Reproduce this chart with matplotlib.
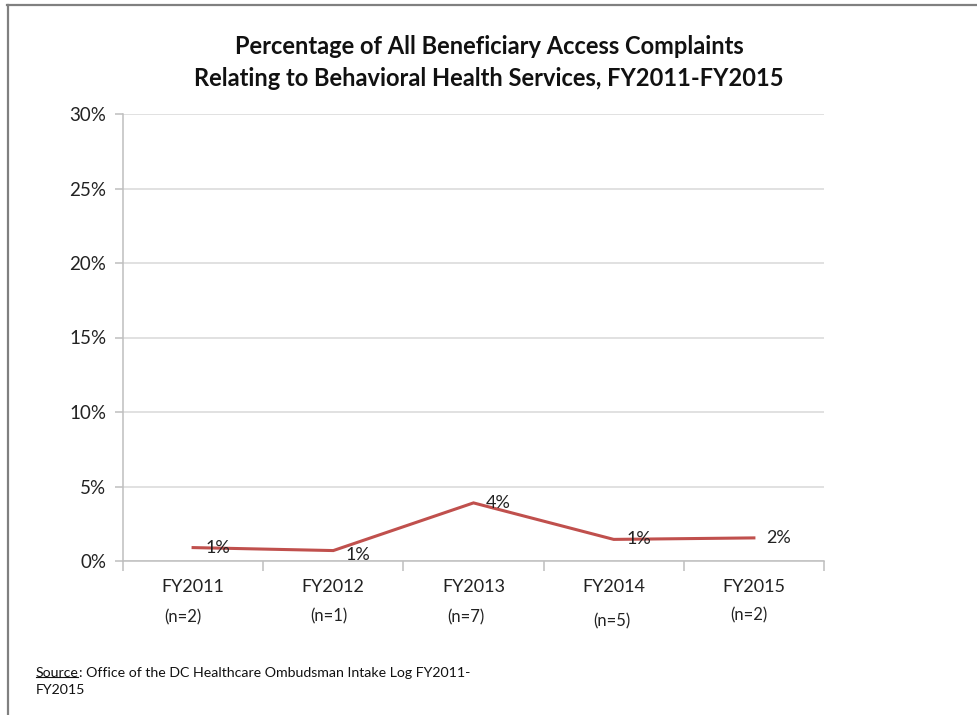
import matplotlib
matplotlib.use("Agg")
import matplotlib.pyplot as plt
from matplotlib.lines import Line2D
import numpy as np

categories = ["FY2011", "FY2012", "FY2013", "FY2014", "FY2015"]
n_labels = ["(n=2)", "(n=1)", "(n=7)", "(n=5)", "(n=2)"]
values = [0.9, 0.7, 3.9, 1.45, 1.55]
value_labels = ["1%", "1%", "4%", "1%", "2%"]
yticks = [0, 5, 10, 15, 20, 25, 30]

FONT = ["Lato", "DejaVu Sans"]
plt.rcParams['font.family'] = FONT

W, H = 977, 715
fig = plt.figure(figsize=(W / 100, H / 100), dpi=100)

def fx(px):
    return px / W

def fy(py):
    return 1 - py / H

ax = fig.add_axes([fx(123), fy(561), fx(824) - fx(123), fy(114) - fy(561)])
x = np.arange(len(categories))
ax.plot(x, values, color="#C0504D", lw=2.2, solid_joinstyle="miter", zorder=3)

ax.set_xlim(-0.5, len(categories) - 0.5)
ax.set_ylim(0, 30)
ax.set_yticks(yticks)
ax.set_yticklabels([f"{v}%" for v in yticks], fontsize=13.5, color="#222222")
ax.yaxis.grid(True, color="#D9D9D9", lw=1.1)
ax.set_axisbelow(True)
ax.tick_params(axis="y", length=6, color="#BFBFBF", width=1.1, pad=6)

ax.set_xticks(np.arange(-0.5, len(categories), 1.0))
ax.set_xticklabels([""] * (len(categories) + 1))
ax.tick_params(axis="x", length=7, color="#BFBFBF", width=1.1)

for s in ["top", "right"]:
    ax.spines[s].set_visible(False)
ax.spines["left"].set_color("#BFBFBF")
ax.spines["bottom"].set_color("#BFBFBF")
ax.spines["left"].set_linewidth(1.1)
ax.spines["bottom"].set_linewidth(1.1)

# value labels to the right of points
offsets_y = [0, -3, 0, 0, 0]
for i, (v, lab) in enumerate(zip(values, value_labels)):
    ax.annotate(lab, (i, v), xytext=(9, offsets_y[i]), textcoords="offset points",
                ha="left", va="center", fontsize=13, color="#222222", zorder=4)

# category labels and n labels
trans = ax.get_xaxis_transform()
n_y = [617, 616, 617, 621, 615]
n_dx = [-10, -4, -8, -2, -5]
for i, (c, n) in enumerate(zip(categories, n_labels)):
    ax.text(i, 1 - (587 - 114) / (561 - 114), c, transform=trans, ha="center",
            va="center", fontsize=13, color="#222222")
    ax.annotate(n, (i, 1 - (n_y[i] - 114) / (561 - 114)), xycoords=trans,
                xytext=(n_dx[i], 0), textcoords="offset pixels", ha="center",
                va="center", fontsize=12, color="#222222")

# title
fig.text(fx(489), fy(47), "Percentage of All Beneficiary Access Complaints",
         ha="center", va="center", fontsize=17, fontweight="bold", color="#111111")
fig.text(fx(489), fy(78), "Relating to Behavioral Health Services, FY2011-FY2015",
         ha="center", va="center", fontsize=17, fontweight="bold", color="#111111")

# source
t1 = fig.text(fx(36), fy(673), "Source", ha="left", va="center", fontsize=10.2, color="#111111")
fig.canvas.draw()
r = fig.canvas.get_renderer()
bb = t1.get_window_extent(r)
fig.text(bb.x1 / W, fy(673), ": Office of the DC Healthcare Ombudsman Intake Log FY2011-",
         ha="left", va="center", fontsize=10.2, color="#111111")
fig.add_artist(Line2D([bb.x0 / W, (bb.x1 - 1) / W], [(bb.y0 + 2) / H, (bb.y0 + 2) / H],
                      color="#111111", lw=0.8))
fig.text(fx(36), fy(690), "FY2015", ha="left", va="center", fontsize=10.2, color="#111111")

# frame border lines (top and left)
fig.add_artist(Line2D([fx(7), 1.0], [fy(4.5), fy(4.5)], color="#808080", lw=1.6))
fig.add_artist(Line2D([fx(7.5), fx(7.5)], [fy(4.5), 0.0], color="#808080", lw=1.6))

fig.savefig("out.png", dpi=100)
